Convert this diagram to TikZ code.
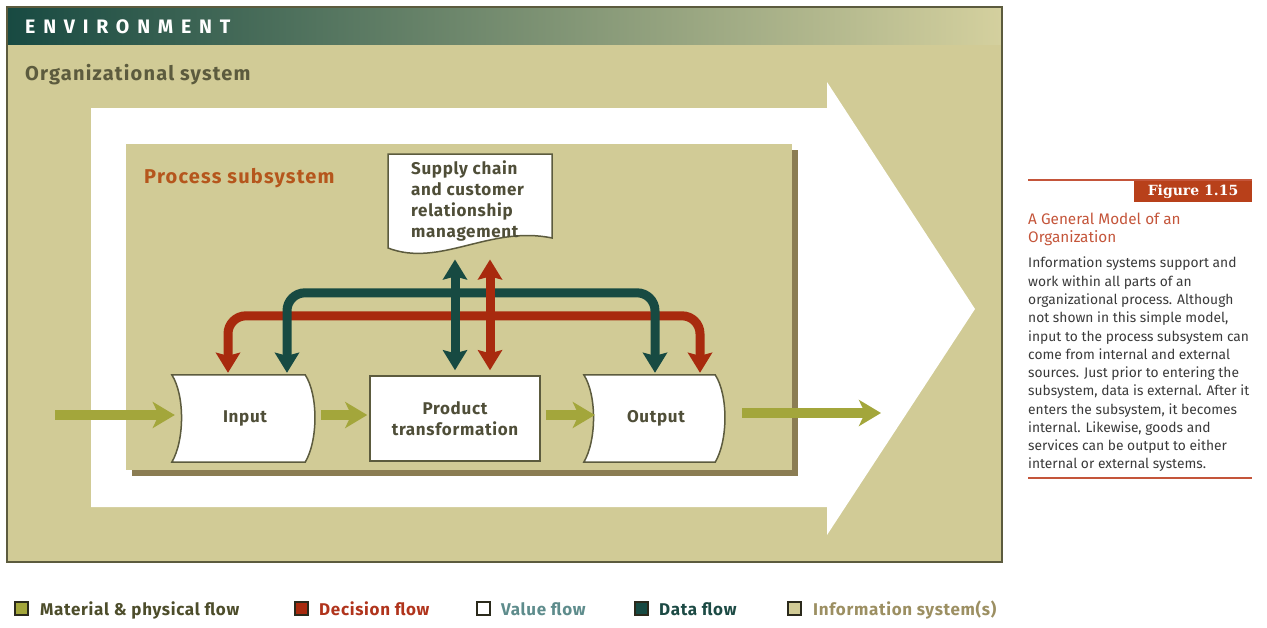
\documentclass[tikz,border=0pt]{standalone}
\usepackage{fontspec}
\setmainfont{Fira Sans}
\setsansfont{Fira Sans}
\newfontfamily\figfont{DejaVu Serif}
\newfontfamily\spacedfont[LetterSpace=40]{Fira Sans}
\newfontfamily\widefont[LetterSpace=6]{Fira Sans}
\newfontfamily\labelfont[LetterSpace=4]{Fira Sans}
\usetikzlibrary{arrows.meta,calc,positioning}
\definecolor{khaki}{HTML}{D1CB96}
\definecolor{edge}{HTML}{5C5B3E}
\definecolor{shadowc}{HTML}{8B7D53}
\definecolor{inktext}{HTML}{4F4E38}
\definecolor{datateal}{HTML}{174A42}
\definecolor{decred}{HTML}{A82A0E}
\definecolor{matgreen}{HTML}{A3A63B}
\definecolor{procorange}{HTML}{B5561C}
\definecolor{headdark}{HTML}{184A42}
\definecolor{headmid}{HTML}{5E8571}
\definecolor{headlight}{HTML}{D4D09E}
\definecolor{figred}{HTML}{B8401A}
\definecolor{capred}{HTML}{C4553A}
\definecolor{bodygray}{HTML}{3A3A3A}
\definecolor{legdark}{HTML}{2B2A1C}
\definecolor{legmattext}{HTML}{4D4D2B}
\definecolor{legdectext}{HTML}{B0341C}
\definecolor{legvaltext}{HTML}{5E8C8C}
\definecolor{legdattext}{HTML}{1C4A44}
\definecolor{leginftext}{HTML}{9C8F62}
\pgfdeclarelayer{back}
\pgfdeclarelayer{shapes}
\pgfsetlayers{back,shapes,main}

% card with curved sides, drawn round a node
\newcommand\cardoutline[1]{%
  \draw[cardline] (#1.north west) -- ([xshift=-13pt]#1.north east)
    .. controls ([yshift=-20pt]#1.north east) and ([yshift=22pt]#1.south east) .. ([xshift=-13pt]#1.south east)
    -- (#1.south west)
    .. controls ([xshift=13pt,yshift=22pt]#1.south west) and ([xshift=13pt,yshift=-20pt]#1.north west) .. cycle;}

\begin{document}
\begin{tikzpicture}[x=1pt,y=-1pt,
    lbl/.style={font=\fontsize{17}{21}\labelfont\bfseries, text=inktext, align=center},
    cardbox/.style={lbl, minimum width=146pt, minimum height=87pt, inner sep=0pt},
    cardline/.style={fill=white, draw=edge, line width=1.5pt},
    procbox/.style={lbl, draw=edge, line width=1.5pt, fill=white, minimum width=170pt, minimum height=85pt, inner sep=0pt},
    matflow/.style={draw=matgreen, line width=10pt, -{Stealth[length=22pt,width=26pt,inset=6pt]}},
    decflow/.style={draw=decred, line width=9pt, rounded corners=18pt, {Stealth[length=20pt,width=24pt,inset=3pt]}-{Stealth[length=20pt,width=24pt,inset=3pt]}},
    dataflow/.style={decflow, draw=datateal},
    legbox/.style={draw=legdark, line width=2pt, minimum size=13pt, inner sep=0pt},
    legtext/.style={anchor=base west, inner sep=0pt, font=\fontsize{17}{17}\labelfont\bfseries},
    rule/.style={draw=capred, line width=1.2pt}
]
    \useasboundingbox (0,0) rectangle (1267,627);

    % environment and organizational system
    \begin{pgfonlayer}{back}
        \fill[khaki] (7,7) rectangle (1002,562);
        \shade[left color=headdark, middle color=headmid, right color=headlight] (8,8) rectangle (1001,44);
        \draw[edge, line width=2pt] (7,7) rectangle (1002,562);
        \fill[white] (91,108) -- (827,108) -- (827,82) -- (975,309) -- (827,535) -- (827,507) -- (91,507) -- cycle;
        \fill[shadowc] (132,150) rectangle (798,476);
        \fill[khaki] (126,144) rectangle (792,470);
    \end{pgfonlayer}

    \node[anchor=west, inner sep=0pt, text=white, font=\fontsize{19.5}{19.5}\spacedfont\bfseries] (envtitle) at (25,27) {ENVIRONMENT};
    \node[anchor=base west, inner sep=0pt, text=edge, font=\fontsize{20}{20}\widefont\bfseries] (orgtitle) at (25,80) {Organizational system};
    \node[anchor=base west, inner sep=0pt, text=procorange, font=\fontsize{20}{20}\widefont\bfseries] (proctitle) at (144,183) {Process subsystem};

    % process subsystem
    \node[cardbox] (input) at (245,418.5) {Input};
    \node[procbox] (prod) at (455,418.5) {Product\\transformation};
    \node[cardbox, minimum width=144pt] (output) at (656,418.5) {Output};
    \node[lbl, anchor=north west, align=left, inner sep=0pt] (scm) at (411,160.5) {Supply chain\\and customer\\relationship\\management};

    \begin{pgfonlayer}{shapes}
        \cardoutline{input}
        \cardoutline{output}
        \draw[cardline] (388,154) -- (552,154) -- (552,238) .. controls (490,225) and (440,268) .. (388,248) -- cycle;
    \end{pgfonlayer}

    \coordinate (matin) at (55,415);
    \coordinate (matout) at (881,413);
    \draw[matflow] (matin) -- ([xshift=3pt,yshift=3.5pt]input.west);
    \draw[matflow] ([xshift=3pt,yshift=3.5pt]input.east) -- ([xshift=-2pt,yshift=3.5pt]prod.west);
    \draw[matflow] ([xshift=5pt,yshift=3.5pt]prod.east) -- ([xshift=11pt,yshift=3.5pt]output.west);
    \draw[matflow] ([xshift=14pt,yshift=5.5pt]output.east) -- (matout);

    \draw[decflow] ([xshift=-17pt,yshift=2pt]input.north) -- ++(0,-57) -| ([xshift=44pt,yshift=2pt]output.north);
    \draw[dataflow] ([xshift=42pt,yshift=2pt]input.north) -- ++(0,-80) -| ([xshift=-1pt,yshift=2pt]output.north);
    \draw[dataflow] ([yshift=5pt]prod.north) -- ($(prod.north |- scm.south)+(0,18)$);
    \draw[decflow] ([xshift=35pt,yshift=5pt]prod.north) -- ($(prod.north |- scm.south)+(35,18)$);

    % legend
    \node[legbox, fill=matgreen] (legmat) at (21,608) {};
    \node[legbox, fill=decred] (legdec) at (301,608) {};
    \node[legbox, fill=white] (legval) at (483,608) {};
    \node[legbox, fill=datateal] (legdat) at (641,608) {};
    \node[legbox, fill=khaki] (leginf) at (794,608) {};
    \node[legtext, text=legmattext] (legmattxt) at (40,615) {Material \& physical flow};
    \node[legtext, text=legdectext] (legdectxt) at (319,615) {Decision flow};
    \node[legtext, text=legvaltext] (legvaltxt) at (501,615) {Value flow};
    \node[legtext, text=legdattext] (legdattxt) at (659,615) {Data flow};
    \node[legtext, text=leginftext] (leginftxt) at (813,615) {Information system(s)};

    % caption panel
    \draw[rule] (1028,180) -- (1252,180);
    \node[fill=figred, text=white, minimum width=118pt, minimum height=21pt, inner sep=0pt, font=\fontsize{14}{14}\figfont\bfseries] (figlabel) at (1193,191.5) {Figure 1.15};
    \node[anchor=north west, inner sep=0pt, align=left, text=capred, font=\fontsize{15.3}{18}\selectfont] (captitle) at (1028,213) {A General Model of an\\Organization};
    \node[anchor=north west, inner sep=0pt, align=left, text=bodygray, font=\fontsize{13.8}{18.27}\selectfont] (capbody) at (1028,257) {Information systems support and\\work within all parts of an\\organizational process. Although\\not shown in this simple model,\\input to the process subsystem can\\come from internal and external\\sources. Just prior to entering the\\subsystem, data is external. After it\\enters the subsystem, it becomes\\internal. Likewise, goods and\\services can be output to either\\internal or external systems.};
    \draw[rule, line width=1.6pt] (1028,478) -- (1252,478);
\end{tikzpicture}
\end{document}
